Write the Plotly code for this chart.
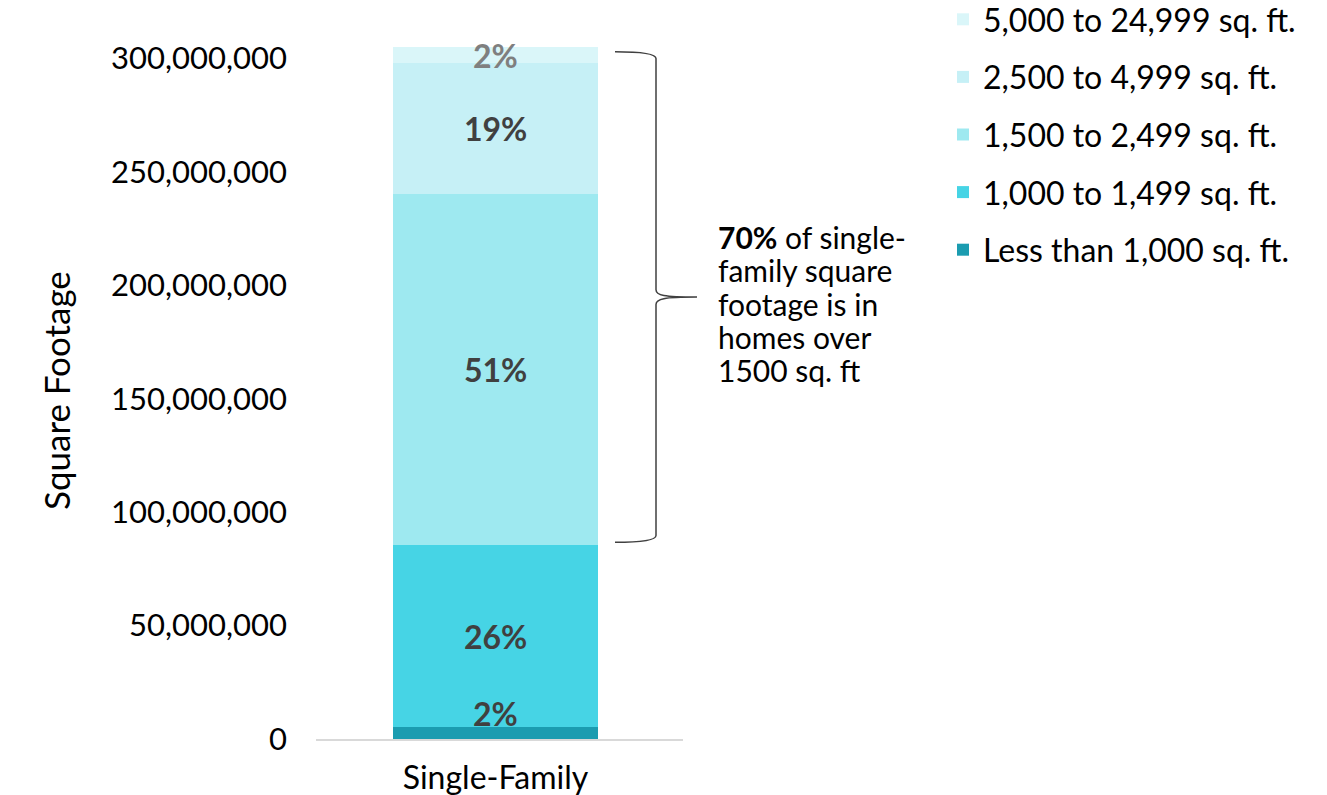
import plotly.graph_objects as go

# Single-family square footage by home size band (stacked bottom to top)
categories = ["Single-Family"]
size_bands = [
    "Less than 1,000 sq. ft.",
    "1,000 to 1,499 sq. ft.",
    "1,500 to 2,499 sq. ft.",
    "2,500 to 4,999 sq. ft.",
    "5,000 to 24,999 sq. ft.",
]
square_footage = [5.2e6, 80.3e6, 155.0e6, 57.5e6, 7.0e6]
band_colors = ["#1b9cb0", "#46d4e5", "#9ee9f0", "#c6f0f6", "#daf6f9"]
label_colors = ["#404040", "#404040", "#404040", "#404040", "#7f7f7f"]
y_ticks = [0, 50e6, 100e6, 150e6, 200e6, 250e6, 300e6]
note_lines = ["<b>70%</b> of single-", "family square", "footage is in", "homes over", "1500 sq. ft"]

FONT = "Century Gothic, Lato, sans-serif"
W, H = 1327, 795
M_L, M_R, M_T, M_B = 316, 644, 45, 56
plot_w = W - M_L - M_R
plot_h = H - M_T - M_B


def px_x(px):
    return (px - M_L) / plot_w


def px_y(py):
    return (H - M_B - py) / plot_h


total = sum(square_footage)
n = len(size_bands)

fig = go.Figure()
for i, (band, value, color) in enumerate(zip(size_bands, square_footage, band_colors)):
    fig.add_trace(go.Bar(
        x=categories, y=[value], name=band, marker=dict(color=color, line=dict(width=0)),
        legendgroup=band, legendrank=n - i, hoverinfo="name+y",
    ))

# Percentage labels for each band
base = 0
for i, (value, lc) in enumerate(zip(square_footage, label_colors)):
    pct = round(value / total * 100)
    if i == 0:
        y, anchor, shift = base + value, "bottom", -8
    else:
        y, anchor, shift = base + value / 2, "middle", 0
    fig.add_annotation(
        x=0, y=y, xref="x", yref="y", text=f"<b>{pct}%</b>", showarrow=False,
        yanchor=anchor, yshift=shift, font=dict(family=FONT, size=32, color=lc),
    )
    base += value

# Curly brace spanning the bands above 1,500 sq. ft.
upper_start = square_footage[0] + square_footage[1]
y_top = total - 2.0e6
y_bot = upper_start + 1.2e6
y_mid = (y_top + y_bot) / 2
xa, xb, xt = px_x(615), px_x(656), px_x(697)
dy = 2.5e6
brace = (
    f"M {xa},{y_top} C {xb - 0.03},{y_top} {xb},{y_top - dy * 0.5} {xb},{y_top - dy * 1.2} "
    f"L {xb},{y_mid + dy * 1.3} C {xb},{y_mid + dy * 0.3} {xb + 0.02},{y_mid} {xt},{y_mid} "
    f"M {xt},{y_mid} C {xb + 0.02},{y_mid} {xb},{y_mid - dy * 0.3} {xb},{y_mid - dy * 1.3} "
    f"L {xb},{y_bot + dy * 1.2} C {xb},{y_bot + dy * 0.5} {xb - 0.03},{y_bot} {xa},{y_bot}"
)
fig.add_shape(type="path", path=brace, xref="paper", yref="y",
              line=dict(color="#404040", width=1.5))

# Note beside the brace, one annotation per line for tight spacing
for k, line in enumerate(note_lines):
    fig.add_annotation(
        x=px_x(716), y=px_y(237 + k * 33.3), xref="paper", yref="paper",
        xanchor="left", yanchor="middle", align="left", showarrow=False,
        text=line, font=dict(family=FONT, size=30, color="#000000"),
    )

# Vertical axis title
fig.add_annotation(
    x=px_x(33), y=px_y(391), xref="paper", yref="paper", showarrow=False,
    text="Square Footage", textangle=-90,
    font=dict(family=FONT, size=35, color="#000000"),
)

fig.update_layout(
    width=W, height=H,
    barmode="stack", bargap=0.44,
    plot_bgcolor="white", paper_bgcolor="white",
    margin=dict(l=M_L, r=M_R, t=M_T, b=M_B, autoexpand=False),
    font=dict(family=FONT, size=31, color="#000000"),
    showlegend=True,
    legend=dict(
        x=px_x(943), y=px_y(-8), xanchor="left", yanchor="top",
        traceorder="grouped",
        font=dict(family=FONT, size=32, color="#000000"), tracegroupgap=13,
        bgcolor="rgba(0,0,0,0)",
    ),
    xaxis=dict(
        range=[-0.489, 0.511],
        showline=True, linecolor="#d9d9d9", linewidth=1.5, showgrid=False,
        ticks="", ticklabelstandoff=10, tickfont=dict(size=32), automargin=False,
    ),
    yaxis=dict(
        range=[0, 306e6], tickvals=y_ticks, tickformat=",", showgrid=False,
        zeroline=False, showline=False, ticks="", ticklabelstandoff=28,
        tickfont=dict(size=31), automargin=False,
    ),
)

fig.write_html("out.html")
